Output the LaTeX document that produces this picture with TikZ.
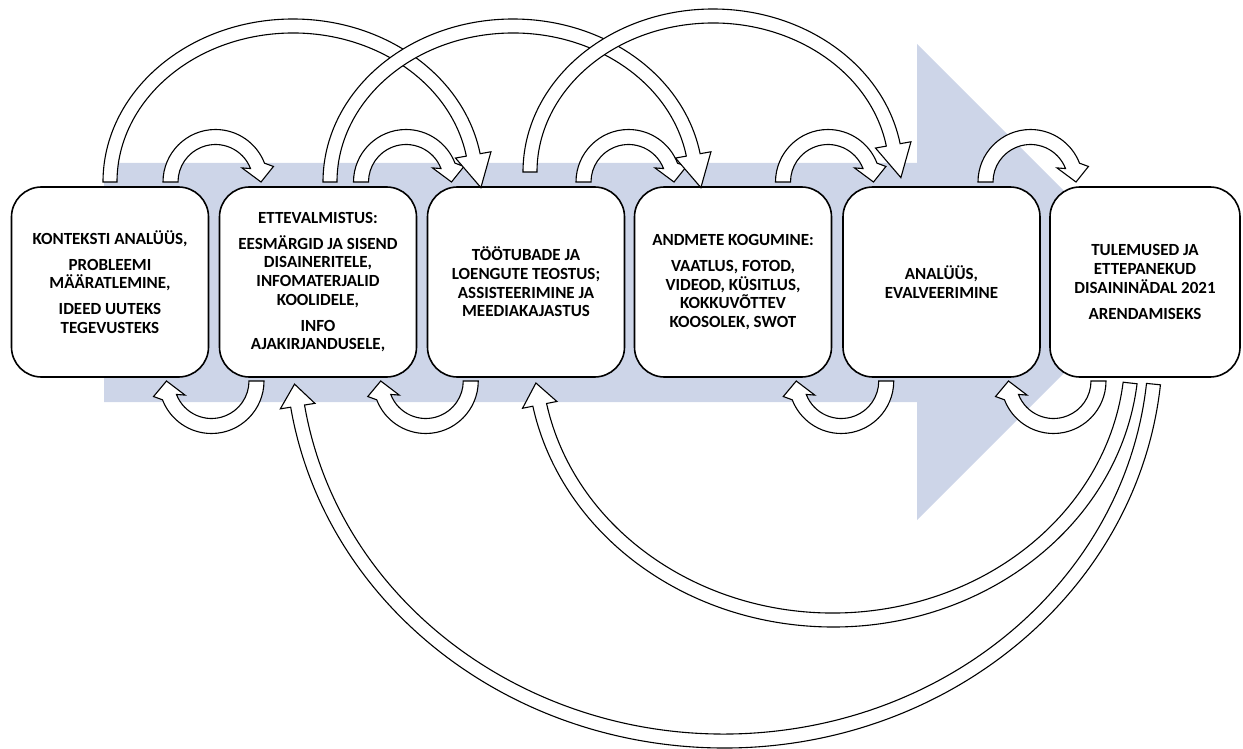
\documentclass[tikz,border=0pt]{standalone}
\usepackage{fontspec}
\setmainfont{Carlito}
\usetikzlibrary{calc}
\definecolor{bluebg}{RGB}{205,213,232}
\tikzset{
 box/.style={draw=black, line width=1.6pt, fill=white, rounded corners=30pt,
   minimum width=197pt, minimum height=190pt, align=center, inner sep=0pt,
   font=\bfseries\fontsize{17}{18.7}\selectfont},
 barrow/.style={draw=black, line width=1.1pt, fill=white, line join=miter},
 bgarrow/.style={fill=bluebg, draw=none},
}
\pgfkeys{/bk/.is family, /bk,
  cx/.store in=\bkcx, cy/.store in=\bkcy, rx/.store in=\bkrx, ry/.store in=\bkry,
  a/.store in=\bka, b/.store in=\bkb, bo/.store in=\bkbo, bi/.store in=\bkbi,
  t/.store in=\bkt, w/.store in=\bkw, h/.store in=\bkh, tr/.store in=\bktr}
\newcommand{\blkarc}[1]{%
 \pgfkeys{/bk, w=7.5, h=15, tr=0, #1}%
 \pgfmathsetmacro{\bkOX}{\bkrx+\bkw}%
 \pgfmathsetmacro{\bkOY}{\bkry+\bkw}%
 \pgfmathsetmacro{\bkIX}{\bkrx-\bkw}%
 \pgfmathsetmacro{\bkIY}{\bkry-\bkw}%
 \pgfmathsetmacro{\bkHOX}{\bkrx+\bkh}%
 \pgfmathsetmacro{\bkHOY}{\bkry+\bkh}%
 \pgfmathsetmacro{\bkHIX}{\bkrx-\bkh}%
 \pgfmathsetmacro{\bkHIY}{\bkry-\bkh}%
 \pgfmathsetmacro{\bkTX}{\bkrx+\bktr}%
 \pgfmathsetmacro{\bkTY}{\bkry+\bktr}%
 \draw[barrow] ([shift={(\bka:\bkOX pt and \bkOY pt)}]\bkcx,\bkcy)
   arc[start angle=\bka, end angle=\bkb, x radius=\bkOX pt, y radius=\bkOY pt]
   -- ([shift={(\bkbo:\bkHOX pt and \bkHOY pt)}]\bkcx,\bkcy)
   -- ([shift={(\bkt:\bkTX pt and \bkTY pt)}]\bkcx,\bkcy)
   -- ([shift={(\bkbi:\bkHIX pt and \bkHIY pt)}]\bkcx,\bkcy)
   -- ([shift={(\bkb:\bkIX pt and \bkIY pt)}]\bkcx,\bkcy)
   arc[start angle=\bkb, end angle=\bka, x radius=\bkIX pt, y radius=\bkIY pt]
   -- cycle;
}
\begin{document}
\begin{tikzpicture}[x=1pt,y=1pt]
\useasboundingbox (0,0) rectangle (1243,-749);
% background arrow
\fill[bgarrow] (104,-163) -- (917,-163) -- (917,-44) -- (1155,-282)
  -- (917,-520) -- (917,-402) -- (104,-402) -- cycle;
% boxes
\node[box] (b1) at (110,-282) {KONTEKSTI ANALÜÜS,\\[7.3pt]PROBLEEMI\\MÄÄRATLEMINE,\\[7.3pt]IDEED UUTEKS\\TEGEVUSTEKS};
\node[box] (b2) at (318,-282) {ETTEVALMISTUS:\\[7.3pt]EESMÄRGID JA SISEND\\DISAINERITELE,\\INFOMATERJALID\\KOOLIDELE,\\[7.3pt]INFO\\AJAKIRJANDUSELE,};
\node[box] (b3) at (526,-282) {TÖÖTUBADE JA\\LOENGUTE TEOSTUS;\\ASSISTEERIMINE JA\\MEEDIAKAJASTUS};
\node[box] (b4) at (733,-282) {ANDMETE KOGUMINE:\\[7.3pt]VAATLUS, FOTOD,\\VIDEOD, KÜSITLUS,\\KOKKUVÕTTEV\\KOOSOLEK, SWOT};
\node[box] (b5) at (941.5,-282) {ANALÜÜS,\\EVALVEERIMINE};
\node[box, minimum width=190pt] (b6) at (1145,-282) {TULEMUSED JA\\ETTEPANEKUD\\DISAININÄDAL 2021\\[7.3pt]ARENDAMISEKS};
% small top arcs
\foreach \c in {215.5,406,628.5,828,1030.5}{
  \blkarc{cx=\c, cy=-182, rx=45, ry=45, a=180, b=21, bo=15, bi=28, t=0, tr=0.5}
}
% big top arcs
\blkarc{cx=293, cy=-182, rx=183, ry=156, w=7, h=18, a=180, b=10, bo=10, bi=10, t=-2, tr=5}
\blkarc{cx=513, cy=-182, rx=183, ry=156, w=7, h=18, a=180, b=10, bo=10, bi=10, t=-2, tr=5}
\blkarc{cx=713, cy=-172, rx=183, ry=156, w=7, h=18, a=180, b=10, bo=10, bi=10, t=-2, tr=5}
% small bottom arcs
\foreach \c in {211.5,425.75,841.25,1053.5}{
  \blkarc{cx=\c, cy=-381, rx=45, ry=45, a=0, b=-159, bo=-165, bi=-152, t=-180, tr=0}
}
% long bottom arcs
\blkarc{cx=833, cy=-353, rx=299, ry=267, w=7, h=17.5, a=-6.45, b=-168.8, bo=-168.8, bi=-168.8, t=-173.55}
\blkarc{cx=724, cy=-344, rx=431.7, ry=397, w=7, h=17.5, a=-5.8, b=-171, bo=-171, bi=-171, t=-174.2}
\end{tikzpicture}
\end{document}
